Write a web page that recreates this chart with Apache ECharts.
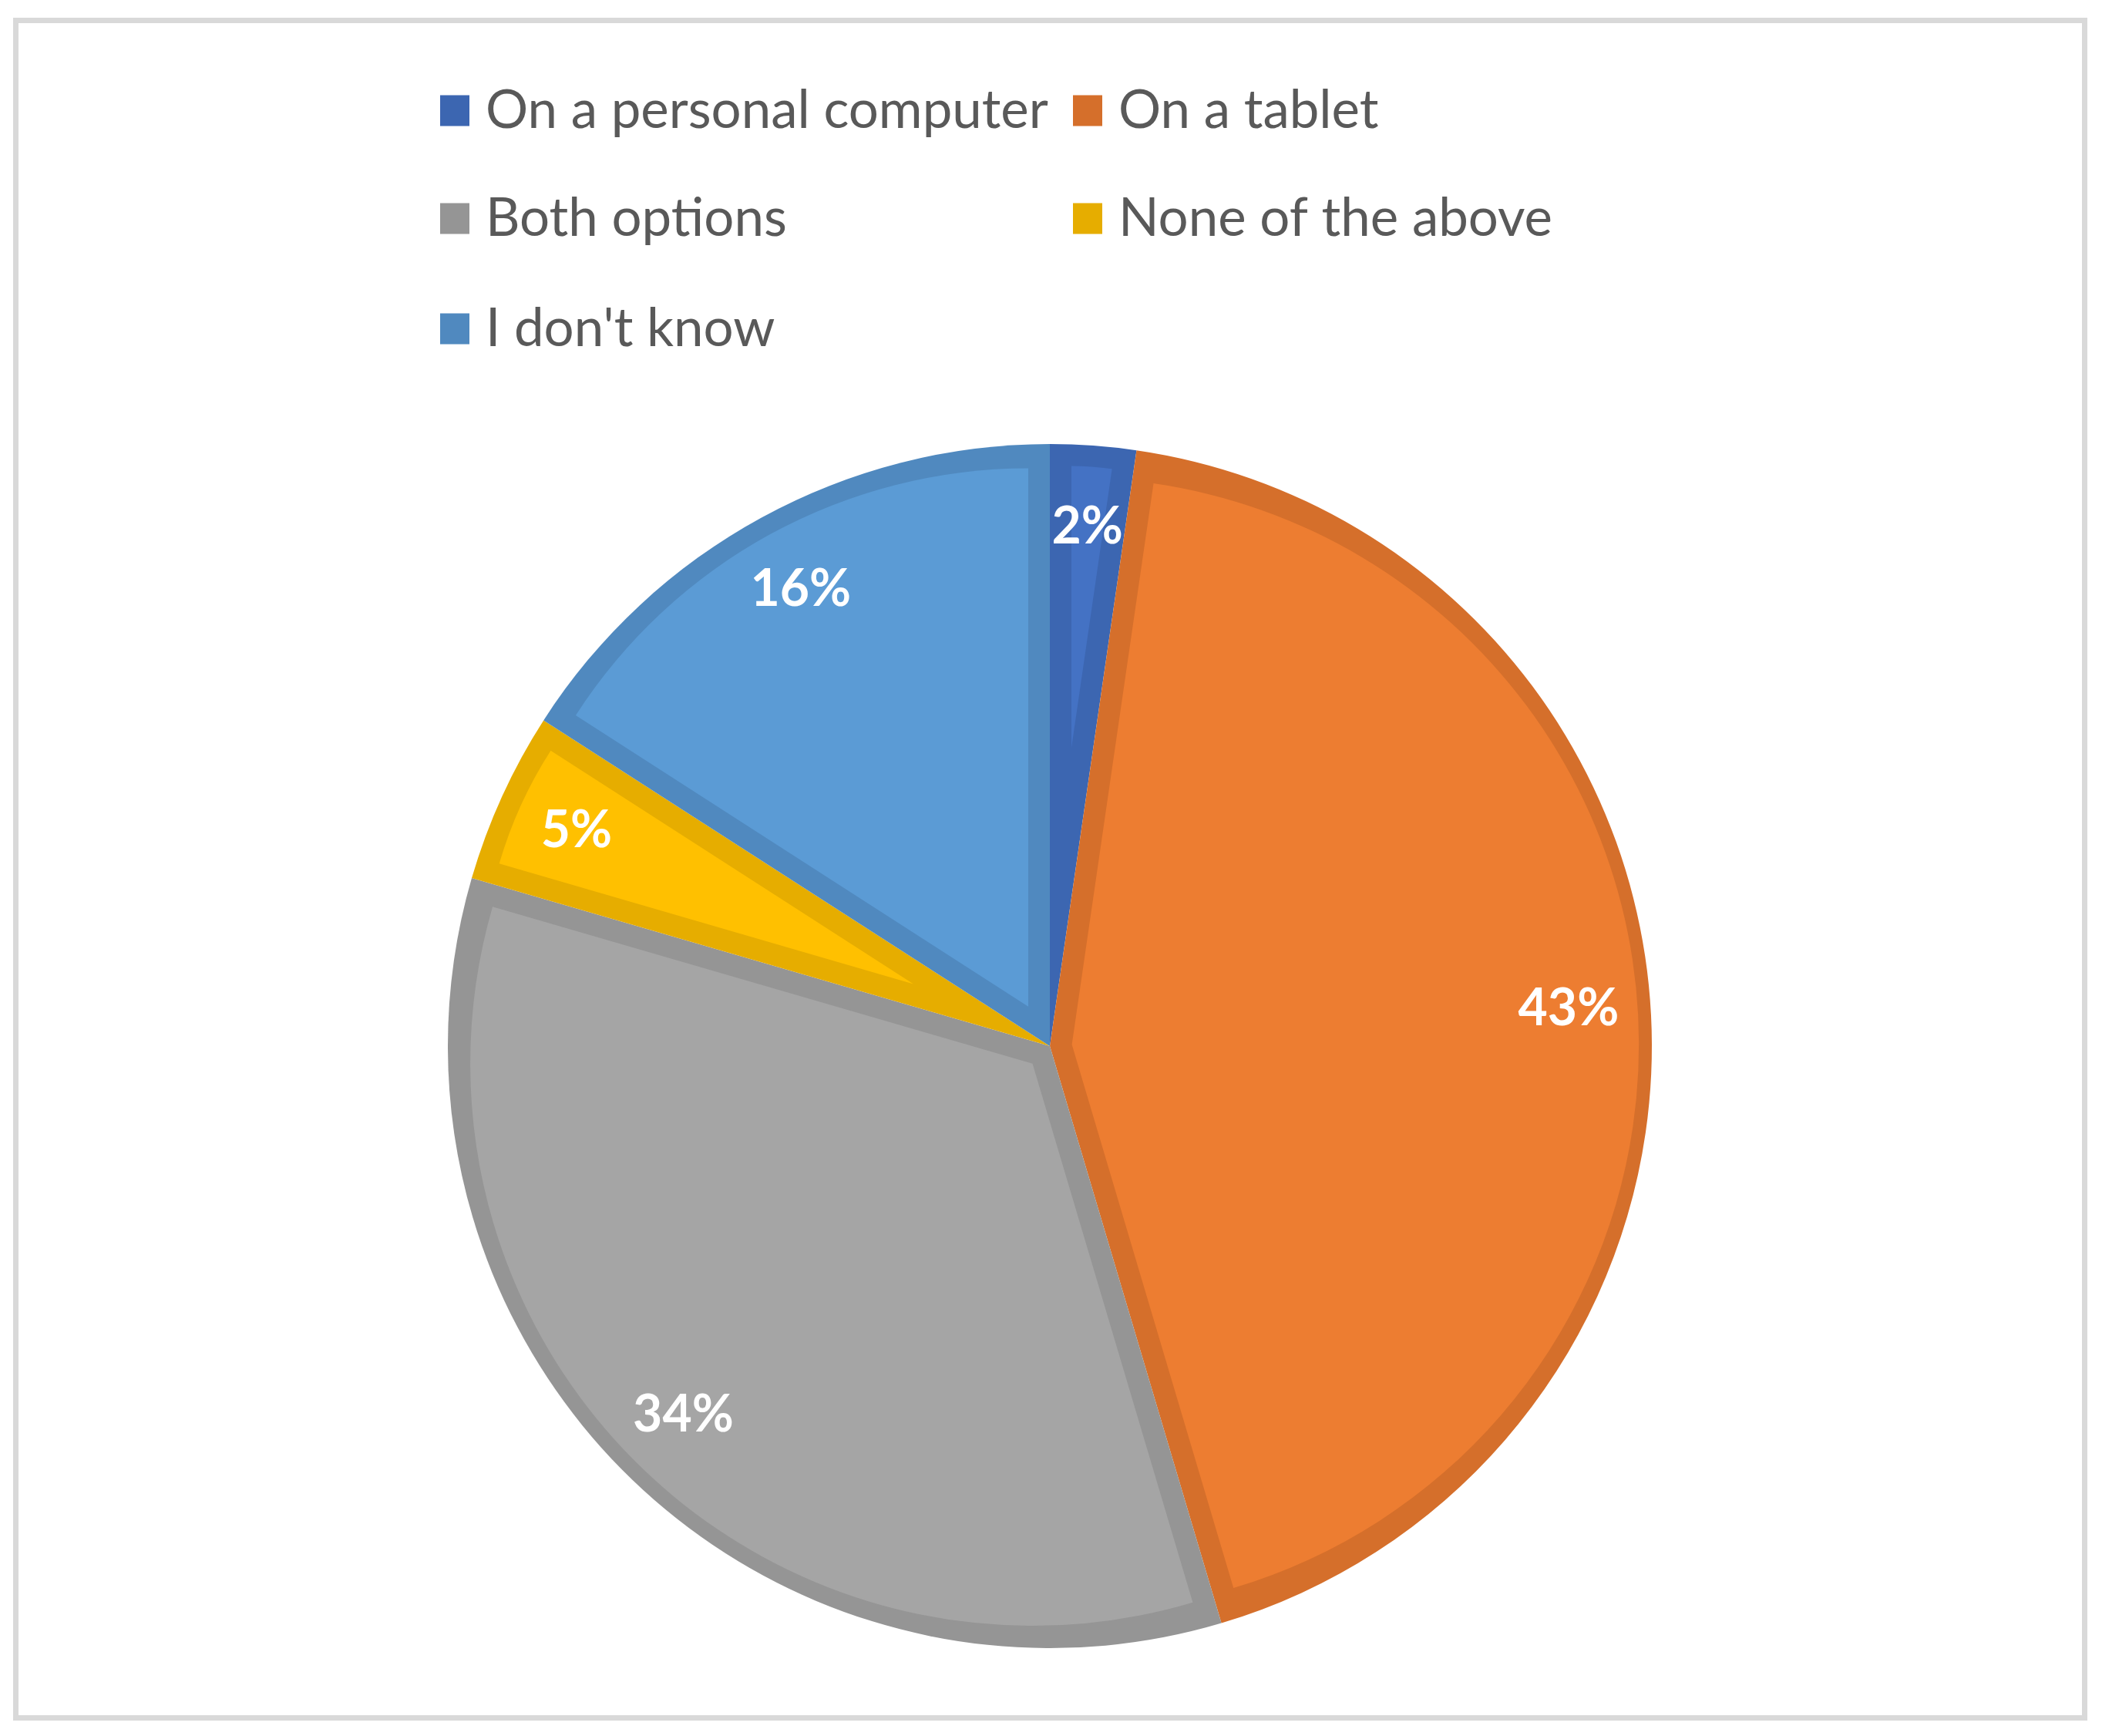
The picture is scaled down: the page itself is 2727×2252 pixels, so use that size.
<!DOCTYPE html>
<html>
<head>
<meta charset="utf-8">
<script src="https://cdn.jsdelivr.net/npm/echarts@6/dist/echarts.min.js"></script>
<style>
html, body { margin: 0; padding: 0; background: #fff; }
#main { width: 2727px; height: 2252px; }
</style>
</head>
<body>
<div id="main"></div>
<script>
// data
var categories = ["On a personal computer", "On a tablet", "Both options", "None of the above", "I don't know"];
var shares = [2.3, 43.1, 34.1, 4.6, 15.9];
var fillColors = ["#4472C4", "#ED7D31", "#A5A5A5", "#FFC000", "#5B9BD5"];
var edgeColors = ["#3C66B1", "#D56F2B", "#959595", "#E6AD00", "#5089BF"];

var myChart = echarts.init(document.getElementById("main"));

var cx = 1362, cy = 1357, R = 781, edge = 28;
var font = "Lato";

// legend: one component per entry so the two columns line up
var legendPos = [[566, 104], [1387, 104], [566, 244], [1387, 244], [566, 387]];
var legends = categories.map(function (name, i) {
  return {
    data: [name],
    left: legendPos[i][0],
    top: legendPos[i][1],
    icon: "rect",
    itemWidth: 38,
    itemHeight: 40,
    selectedMode: false,
    textStyle: { fontFamily: font, fontSize: 69, color: "#595959", padding: [0, 0, 0, 16] }
  };
});

var series = [];

// dark base slices (the edge colour)
series.push({
  type: "pie",
  center: [cx, cy],
  radius: [0, R],
  startAngle: 90,
  silent: true,
  label: { show: false },
  labelLine: { show: false },
  data: categories.map(function (name, i) {
    return { name: name, value: shares[i], itemStyle: { color: edgeColors[i] } };
  })
});

// lighter fill of each slice, inset from its edges
var total = shares.reduce(function (a, b) { return a + b; }, 0);
var start = 0;
shares.forEach(function (v, i) {
  var theta = v / total * 2 * Math.PI;
  var mid = start + theta / 2;
  var half = Math.min(theta / 2, Math.PI / 2);
  var d = edge / Math.sin(half);
  var r = R - edge - d * (1 + Math.cos(half)) / 2;
  series.push({
    type: "pie",
    center: [cx + d * Math.sin(mid), cy - d * Math.cos(mid)],
    radius: [0, r],
    startAngle: 90,
    silent: true,
    label: { show: false },
    labelLine: { show: false },
    data: categories.map(function (name, j) {
      return {
        name: name,
        value: shares[j],
        itemStyle: { color: j === i ? fillColors[j] : "rgba(0,0,0,0)" }
      };
    })
  });
  start += theta;
});

// labels, placed near the rim
series.push({
  type: "pie",
  center: [cx, cy],
  radius: [R * 0.72, R],
  startAngle: 90,
  silent: true,
  labelLine: { show: false },
  label: {
    show: true,
    position: "inside",
    formatter: function (p) { return Math.round(p.percent) + "%"; },
    color: "#fff",
    fontFamily: font,
    fontWeight: "bold",
    fontSize: 66
  },
  data: categories.map(function (name, i) {
    return { name: name, value: shares[i], itemStyle: { color: "rgba(0,0,0,0)" } };
  })
});

var option = {
  backgroundColor: "#fff",
  animation: false,
  legend: legends,
  graphic: [{
    type: "rect",
    shape: { x: 20.5, y: 26.5, width: 2684, height: 2202 },
    style: { fill: "none", stroke: "#D9D9D9", lineWidth: 7 }
  }],
  series: series
};

myChart.setOption(option);
</script>
</body>
</html>
